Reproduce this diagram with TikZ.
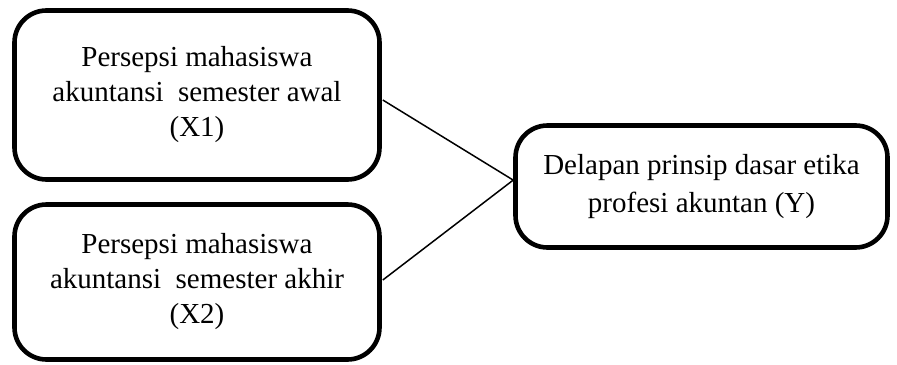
\documentclass[tikz,border=0pt]{standalone}
\usepackage{fontspec}
\setmainfont{Liberation Serif}
\begin{document}
\begin{tikzpicture}[x=0.5pt,y=-0.5pt,
  varbox/.style={draw=black, line width=2.3pt, rounded corners=16pt, inner sep=0pt,
    align=center, font=\fontsize{14.5}{17.5}\selectfont},
  link/.style={draw=black, line width=0.75pt}]
\useasboundingbox (0,0) rectangle (897,364);
\node[varbox, minimum width=182.5pt, minimum height=84.5pt] (x1) at (197,95)
  {Persepsi mahasiswa\\akuntansi~ semester awal\\(X1)};
\node[varbox, minimum width=182.5pt, minimum height=77.5pt] (x2) at (197,282)
  {Persepsi mahasiswa\\akuntansi~ semester akhir\\(X2)};
\node[varbox, minimum width=186pt, minimum height=61pt,
  font=\fontsize{14.5}{19}\selectfont] (y) at (701.5,186.5)
  {Delapan prinsip dasar etika\\profesi akuntan (Y)};
\draw[link] ([yshift=-2.5pt,xshift=0.5pt]x1.east) -- ([yshift=3.2pt]y.west);
\draw[link] ([yshift=1pt,xshift=0.5pt]x2.east) -- ([yshift=3.2pt]y.west);
\end{tikzpicture}
\end{document}
